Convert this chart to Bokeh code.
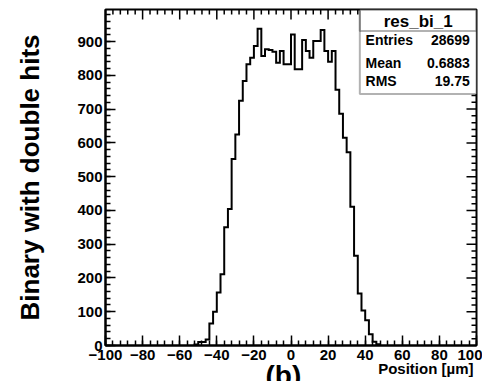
from bokeh.plotting import figure
from bokeh.models import LinearAxis, SingleIntervalTicker, Range1d, BoxAnnotation, Label, Title
from bokeh.embed import file_html
from bokeh.resources import INLINE

# ---- data ----
hist_name = "res_bi_1"
bin_width = 2.0
first_edge = -52.0
counts = [3, 10, 10, 18, 65, 100, 157, 211, 350, 404, 552, 625, 725, 783, 833, 852, 887,
          938, 857, 877, 875, 870, 837, 872, 833, 833, 921, 818, 818, 905, 872, 852, 902,
          902, 934, 872, 840, 872,
          757, 686, 615, 572, 411, 266, 154, 104, 75, 33, 11, 4]
stat_names = ["Entries", "Mean", "RMS"]
stat_values = ["28699", "0.6883", "19.75"]
x_title = "Position [\u00b5m]"
y_title = "Binary with double hits"
caption = "(b)"

x_lo, x_hi = -100, 100
y_lo, y_hi = 0, 995
x_major, x_minor = 20, 4
y_major, y_minor = 100, 20

FONT = "Liberation Sans"
W, H = 482, 381
BL, BR, BT, BB = 105, 6, 9, 36
frame_w = W - BL - BR
frame_h = H - BT - BB

p = figure(width=W, height=H, output_backend="svg", toolbar_location=None,
           x_range=Range1d(x_lo, x_hi), y_range=Range1d(y_lo, y_hi),
           x_axis_type=None, y_axis_type=None,
           min_border_left=BL, min_border_right=BR, min_border_top=BT, min_border_bottom=BB)
p.outline_line_color = "black"
p.outline_line_width = 2
p.background_fill_color = "white"
p.border_fill_color = "white"


def style_axis(ax):
    ax.axis_line_color = "black"
    ax.axis_line_width = 2
    ax.major_tick_in = 10
    ax.major_tick_out = 0
    ax.minor_tick_in = 5
    ax.minor_tick_out = 0
    ax.major_tick_line_width = 1.5
    ax.minor_tick_line_width = 1.5
    ax.major_tick_line_color = "black"
    ax.minor_tick_line_color = "black"
    ax.major_label_text_font = FONT
    ax.major_label_text_font_size = "15px"
    ax.major_label_text_font_style = "bold"
    ax.major_label_text_color = "black"


xb = LinearAxis(ticker=SingleIntervalTicker(interval=x_major, num_minor_ticks=x_major // x_minor))
style_axis(xb)
xb.major_label_standoff = 4
p.add_layout(xb, "below")

yl = LinearAxis(ticker=SingleIntervalTicker(interval=y_major, num_minor_ticks=y_major // y_minor))
style_axis(yl)
yl.major_label_standoff = 3
yl.axis_label = y_title
yl.axis_label_text_font = FONT
yl.axis_label_text_font_size = "26px"
yl.axis_label_text_font_style = "bold"
yl.axis_label_text_color = "black"
yl.axis_label_standoff = 29
p.add_layout(yl, "left")

# ---- mirrored ticks on the top and right frame edges ----
px_per_x = frame_w / (x_hi - x_lo)
px_per_y = frame_h / (y_hi - y_lo)
tx, ty0, ty1 = [], [], []
for v in range(x_lo + x_minor, x_hi, x_minor):
    L = (10 if v % x_major == 0 else 5) / px_per_y
    tx.append(v); ty0.append(y_hi); ty1.append(y_hi - L)
p.segment(tx, ty0, tx, ty1, line_color="black", line_width=1.5)
ry, rx0, rx1 = [], [], []
for v in range(y_lo + y_minor, int(y_hi), y_minor):
    L = (10 if v % y_major == 0 else 5) / px_per_x
    ry.append(v); rx0.append(x_hi); rx1.append(x_hi - L)
p.segment(rx0, ry, rx1, ry, line_color="black", line_width=1.5)

# ---- histogram outline ----
edges = [first_edge + bin_width * i for i in range(len(counts) + 1)]
xs = [edges[0]]
ys = [0]
for i, c in enumerate(counts):
    xs += [edges[i], edges[i + 1]]
    ys += [c, c]
xs.append(edges[-1])
ys.append(0)
p.line(xs, ys, line_color="black", line_width=2, line_join="miter")

# ---- stats box ----
box_left, box_bottom, title_bottom = 37.1, 745, 931
p.add_layout(BoxAnnotation(left=box_left, right=x_hi, bottom=box_bottom, top=y_hi,
                           fill_color="white", fill_alpha=1.0,
                           line_color="black", line_width=2))
p.add_layout(BoxAnnotation(left=box_left, right=x_hi, bottom=title_bottom, top=y_hi,
                           fill_alpha=0.0, line_color="black", line_width=2))
p.add_layout(Label(x=(box_left + x_hi) / 2, y=960, text=hist_name, text_font=FONT,
                   text_font_size="17px", text_font_style="bold", text_color="black",
                   text_align="center", text_baseline="middle"))
row_y = [904, 837, 783]
for name, val, yy in zip(stat_names, stat_values, row_y):
    p.add_layout(Label(x=40.2, y=yy, text=name, text_font=FONT, text_font_size="14px",
                       text_font_style="bold", text_color="black",
                       text_align="left", text_baseline="middle"))
    p.add_layout(Label(x=96.4, y=yy, text=val, text_font=FONT, text_font_size="14px",
                       text_font_style="bold", text_color="black",
                       text_align="right", text_baseline="middle"))

# ---- x title (right-aligned under the axis) and the caption ----
p.add_layout(Title(text=x_title, align="right", offset=3, vertical_align="top",
                   standoff=-5, text_font=FONT, text_font_size="15px",
                   text_font_style="bold", text_color="black"), "below")
p.add_layout(Title(text=caption, align="left", offset=160, vertical_align="top",
                   standoff=-33, text_font=FONT, text_font_size="28px",
                   text_font_style="bold", text_color="black"), "below")

open("out.html", "w").write(file_html(p, INLINE))
